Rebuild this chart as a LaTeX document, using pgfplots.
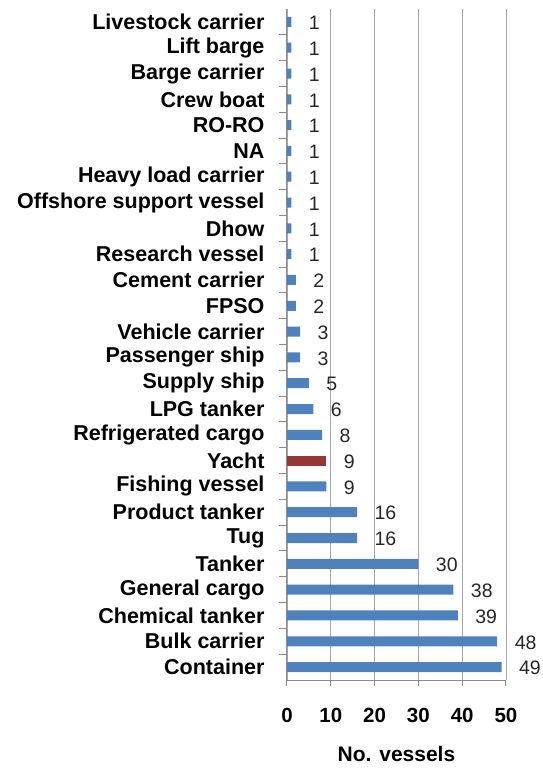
\documentclass[border=0pt]{standalone}
\usepackage{pgfplots}
\pgfplotsset{compat=1.18}
\usepackage{fontspec}
\setmainfont{Liberation Sans}
\definecolor{barblue}{HTML}{4F81BD}
\definecolor{barred}{HTML}{953735}
\definecolor{gridgray}{HTML}{A6A6A6}
\definecolor{axgray}{HTML}{8C8C8C}
\begin{document}
\begin{tikzpicture}
\begin{axis}[
  at={(287pt,89pt)}, anchor=south west,
  scale only axis, width=219pt, height=671pt,
  xbar, bar width=10pt, bar shift=0pt,
  xmin=0, xmax=50, ymin=-0.5, ymax=25.5,
  clip=false,
  axis x line*=bottom, axis y line*=left,
  axis line style={axgray, line width=1pt, -},
  xtick={0,10,...,50},
  xmajorgrids, major x grid style={gridgray, line width=0.8pt},
  tick align=outside,
  major tick length=6pt, minor tick length=8pt,
  major x tick style={axgray, line width=1pt},
  major y tick style={draw=none},
  minor y tick style={axgray, line width=1pt},
  ytick={0,...,25},
  minor ytick={0.5,1.5,...,24.5},
  yticklabels={Container, Bulk carrier, Chemical tanker, General cargo, Tanker, Tug, Product tanker, Fishing vessel, Yacht, Refrigerated cargo, LPG tanker, Supply ship, Passenger ship, Vehicle carrier, FPSO, Cement carrier, Research vessel, Dhow, Offshore support vessel, Heavy load carrier, NA, RO-RO, Crew boat, Barge carrier, Lift barge, Livestock carrier},
  yticklabel style={font=\fontsize{21.5}{23}\selectfont\bfseries, anchor=east, xshift=-13pt},
  /pgf/number format/assume math mode=true,
  xticklabel style={font=\fontsize{20.5}{22}\selectfont\bfseries, anchor=center, yshift=-29pt},
  xlabel={No. vessels},
  xlabel style={font=\fontsize{21}{23}\selectfont\bfseries, anchor=center, at={(axis description cs:0.5,0)}, yshift=-74pt},
  nodes near coords,
  every node near coord/.append style={font=\fontsize{19.5}{21}\selectfont, text=black!85, anchor=west, xshift=14pt, yshift=-1pt},
]
\addplot[fill=barblue, draw=none] coordinates {
(49,0) (48,1) (39,2) (38,3) (30,4) (16,5) (16,6) (9,7)
(8,9) (6,10) (5,11) (3,12) (3,13) (2,14) (2,15) (1,16) (1,17) (1,18) (1,19) (1,20) (1,21) (1,22) (1,23) (1,24) (1,25)};
\addplot[fill=barred, draw=none] coordinates {(9,8)};
\end{axis}
\pgfresetboundingbox
\path[use as bounding box] (0,0) rectangle (543pt,769pt);
\end{tikzpicture}
\end{document}
